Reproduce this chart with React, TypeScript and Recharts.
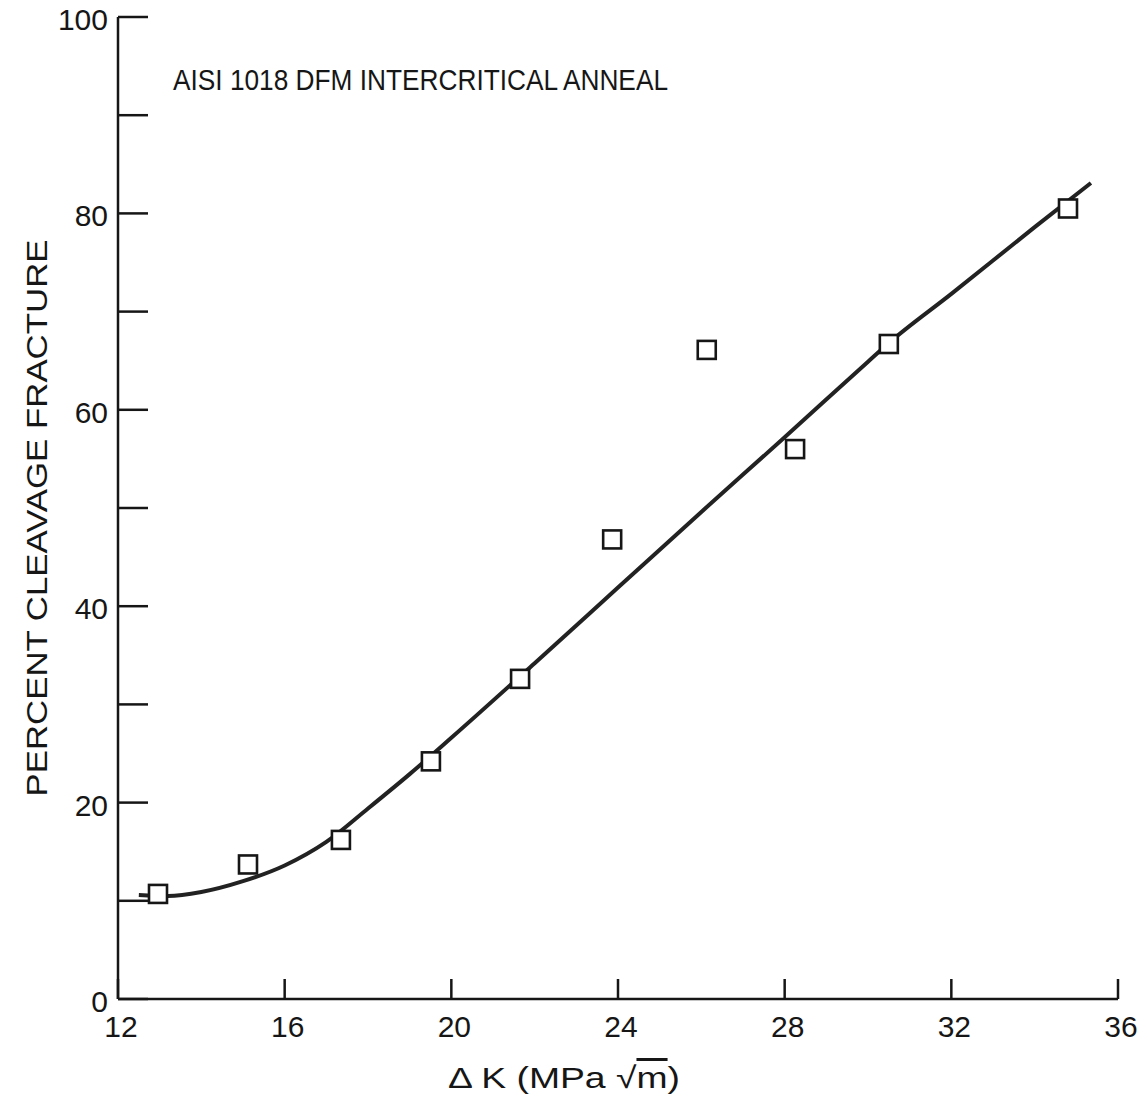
import React from 'react';
import { ComposedChart, Line, Scatter, XAxis, YAxis } from 'recharts';

// tick values
const xTicks = [12, 16, 20, 24, 28, 32, 36];
const yTicks = [0, 10, 20, 30, 40, 50, 60, 70, 80, 90, 100];
const yLabelEvery = 20;

// measured points (squares)
const measuredDeltaK = [12.96, 15.12, 17.35, 19.51, 21.65, 23.86, 26.13, 28.25, 30.5, 34.8];
const measuredCleavage = [10.7, 13.7, 16.2, 24.2, 32.6, 46.8, 66.1, 56.0, 66.7, 80.5];

// fitted curve
const fitDeltaK = [12.5, 13.2, 14, 15, 16, 17, 18, 19, 20, 22, 24, 26, 28, 30, 30.5, 32, 34, 35.35];
const fitCleavage = [10.6, 10.5, 10.9, 12.0, 13.6, 16.0, 19.4, 22.9, 26.6, 34.2, 41.9, 49.6, 57.2, 64.9, 66.8, 71.8, 78.6, 83.1];

const measured = measuredDeltaK.map((x, i) => ({ x, y: measuredCleavage[i] }));
const fit = fitDeltaK.map((x, i) => ({ x, y: fitCleavage[i] }));

const INK = '#161616';
const FONT = '"Liberation Sans", Arial, sans-serif';

function BottomTick({ x, y, payload }: any) {
  return (
    <g>
      <line x1={x} y1={y} x2={x} y2={y - 20} stroke={INK} strokeWidth={2.5} />
      <text x={x + 3} y={y + 38} textAnchor="middle" fontSize={30} fill={INK} fontFamily={FONT}>
        {payload.value}
      </text>
    </g>
  );
}

function TopTick({ x, y }: any) {
  return <line x1={x} y1={y} x2={x} y2={y + 22} stroke={INK} strokeWidth={2.5} />;
}

function LeftTick({ x, y, payload }: any) {
  const showLabel = payload.value % yLabelEvery === 0;
  return (
    <g>
      <line x1={x} y1={y} x2={x + 30} y2={y} stroke={INK} strokeWidth={2.5} />
      {showLabel && (
        <text x={x - 10} y={y + 13} textAnchor="end" fontSize={30} fill={INK} fontFamily={FONT}>
          {payload.value}
        </text>
      )}
    </g>
  );
}

function RightTick({ x, y }: any) {
  return <line x1={x} y1={y} x2={x - 24} y2={y} stroke={INK} strokeWidth={2.5} />;
}

function SquareMarker({ cx, cy }: any) {
  return <rect x={cx - 9} y={cy - 9} width={18} height={18} fill="#fff" stroke={INK} strokeWidth={2.6} />;
}

export default function App() {
  return (
    <div style={{ position: 'absolute', left: 0, top: 0, background: '#fff' }}>
      <ComposedChart width={1140} height={1096} margin={{ top: 17, right: 22, bottom: 0, left: 0 }}>
        <XAxis
          dataKey="x"
          type="number"
          domain={[12, 36]}
          ticks={xTicks}
          interval={0}
          height={97}
          tickSize={0}
          tickMargin={0}
          tickLine={false}
          axisLine={{ stroke: INK, strokeWidth: 2.5 }}
          tick={<BottomTick />}
        />
        <XAxis
          xAxisId="top"
          orientation="top"
          type="number"
          domain={[12, 36]}
          ticks={xTicks}
          interval={0}
          height={0}
          tickSize={0}
          tickMargin={0}
          tickLine={false}
          axisLine={{ stroke: INK, strokeWidth: 2.5 }}
          tick={<TopTick />}
        />
        <YAxis
          dataKey="y"
          type="number"
          domain={[0, 100]}
          ticks={yTicks}
          interval={0}
          width={118}
          tickSize={0}
          tickMargin={0}
          tickLine={false}
          axisLine={{ stroke: INK, strokeWidth: 2.5 }}
          tick={<LeftTick />}
        />
        <YAxis
          yAxisId="right"
          orientation="right"
          type="number"
          domain={[0, 100]}
          ticks={yTicks}
          interval={0}
          width={0}
          tickSize={0}
          tickMargin={0}
          tickLine={false}
          axisLine={{ stroke: INK, strokeWidth: 2.5 }}
          tick={<RightTick />}
        />
        <Line
          data={fit}
          dataKey="y"
          type="monotone"
          stroke="#222"
          strokeWidth={4}
          dot={false}
          activeDot={false}
          isAnimationActive={false}
        />
        <Scatter data={measured} dataKey="y" shape={<SquareMarker />} isAnimationActive={false} />

        <text x={173} y={90} fontSize={30} fill={INK} fontFamily={FONT} textLength={495} lengthAdjust="spacingAndGlyphs">
          AISI 1018 DFM INTERCRITICAL ANNEAL
        </text>
        <text
          transform="translate(47,518) rotate(-90)"
          x={0}
          y={0}
          textAnchor="middle"
          fontSize={30}
          fill={INK}
          fontFamily={FONT}
          textLength={557}
          lengthAdjust="spacingAndGlyphs"
        >
          PERCENT CLEAVAGE FRACTURE
        </text>
        <text x={448} y={1088} fontSize={30} fill={INK} fontFamily={FONT} textLength={232} lengthAdjust="spacingAndGlyphs">
          {'Δ K  (MPa √'}
          <tspan style={{ textDecoration: 'overline' }}>m</tspan>
          {')'}
        </text>
      </ComposedChart>
    </div>
  );
}
